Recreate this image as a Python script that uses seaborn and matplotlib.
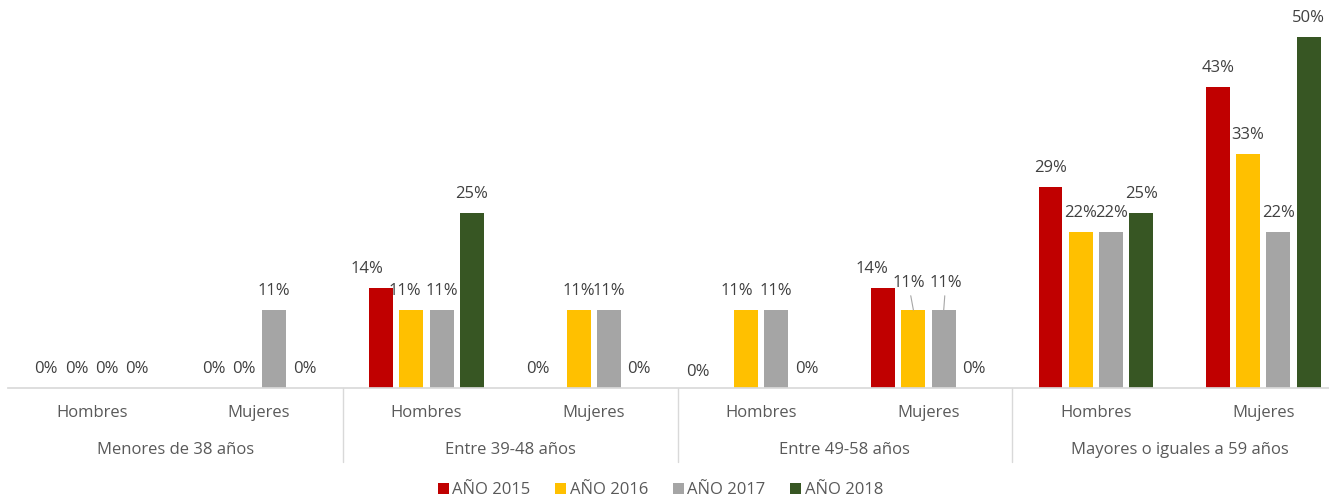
import pandas as pd
import seaborn as sns
import matplotlib.pyplot as plt
from matplotlib import transforms

edades = ["Menores de 38 años", "Entre 39-48 años", "Entre 49-58 años", "Mayores o iguales a 59 años"]
sexos = ["Hombres", "Mujeres"]
anios = ["AÑO 2015", "AÑO 2016", "AÑO 2017", "AÑO 2018"]
colores = ["#C00000", "#FFC000", "#A5A5A5", "#375623"]

# one value per (edad, sexo), in order Menores-H, Menores-M, 39-48-H, ...
v2015 = [0.0, 0.0, 0.143, 0.0, 0.0, 0.143, 0.286, 0.429]
v2016 = [0.0, 0.0, 0.111, 0.111, 0.111, 0.111, 0.222, 0.333]
v2017 = [0.0, 0.111, 0.111, 0.111, 0.111, 0.111, 0.222, 0.222]
v2018 = [0.0, 0.0, 0.25, 0.0, 0.0, 0.0, 0.25, 0.50]
series = [v2015, v2016, v2017, v2018]

cats = [f"{e}|{s}" for e in edades for s in sexos]
rows = []
for anio, vals in zip(anios, series):
    for c, v in zip(cats, vals):
        rows.append({"cat": c, "anio": anio, "valor": v})
df = pd.DataFrame(rows)

sns.set_theme(style="white")
plt.rcParams["font.family"] = ["Open Sans", "DejaVu Sans"]
texto = "#595959"
fs = 12

fig = plt.figure(figsize=(13.29, 5.01), dpi=100)
ax = fig.add_axes([8 / 1329, 113 / 501, 1339 / 1329, 386 / 501])
sns.barplot(data=df, x="cat", y="valor", hue="anio", order=cats, hue_order=anios,
            palette=colores, saturation=1, width=0.724, gap=0.21, errorbar=None,
            linewidth=0, ax=ax)
ax.set_xlim(-0.5, 7.5)
ax.set_ylim(0, 0.55)

# manual nudges for overlapping labels (pixels): (cat, serie) -> (dx, dy, leader)
ajustes = {
    (2, 0): (-14, 0, False), (2, 1): (-6, 0, False),
    (3, 0): (-10, 0, False),
    (4, 0): (-18, -3, False), (4, 1): (-9, 0, False),
    (5, 0): (-11, 0, False), (5, 1): (-5, 8, True), (5, 2): (2, 8, True),
}
px = 0.72
for j, cont in enumerate(ax.containers):
    for i, bar in enumerate(cont):
        v = series[j][i]
        dx, dy, leader = ajustes.get((i, j), (0, 0, False))
        xc = bar.get_x() + bar.get_width() / 2
        arrow = dict(arrowstyle="-", color="#a6a6a6", lw=0.8, shrinkA=1, shrinkB=0) if leader else None
        ax.annotate(f"{round(v * 100):.0f}%", xy=(xc, v), xytext=(dx * px, (19 + dy) * px),
                    textcoords="offset points", ha="center", va="center",
                    fontsize=fs, color="#404040", arrowprops=arrow)

sns.despine(ax=ax, left=True, top=True, right=True)
ax.spines["bottom"].set_color("#d9d9d9")
ax.set_yticks([])
ax.set_xlabel("")
ax.set_ylabel("")
ax.set_xticks(range(len(cats)))
ax.set_xticklabels(sexos * len(edades), fontsize=fs, color=texto)
ax.tick_params(axis="x", length=0, pad=18)
for lbl in ax.get_xticklabels():
    lbl.set_va("center")

trans = transforms.blended_transform_factory(ax.transData, ax.transAxes)
for k, e in enumerate(edades):
    ax.text(2 * k + 0.5, -62 / 386, e, transform=trans, ha="center", va="center",
            fontsize=fs, color=texto)
for xs in [1.5, 3.5, 5.5]:
    ax.plot([xs, xs], [0, -74 / 386], transform=trans, color="#d9d9d9", lw=1, clip_on=False)

handles, labels = ax.get_legend_handles_labels()
ax.get_legend().remove()
fig.legend(handles, labels, loc="center", bbox_to_anchor=(0.497, 11 / 501), ncol=4,
           frameon=False, fontsize=fs, labelcolor=texto, handlelength=0.65, handleheight=0.65,
           handletextpad=0.2, columnspacing=1.5)

fig.savefig("out.png", dpi=100)
